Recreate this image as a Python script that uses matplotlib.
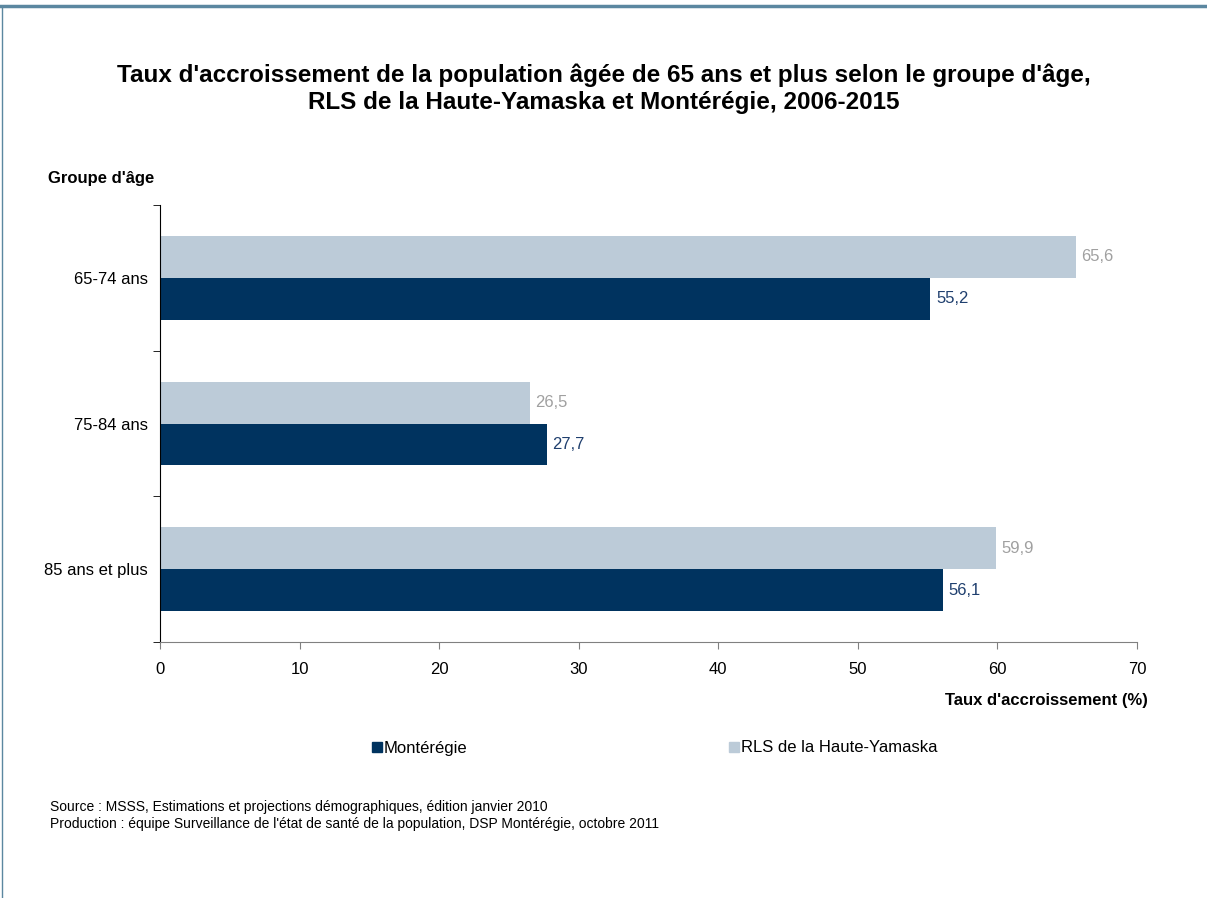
import matplotlib
matplotlib.use("Agg")
import matplotlib.pyplot as plt
from matplotlib.patches import Patch
from matplotlib.lines import Line2D
import numpy as np

plt.rcParams["font.family"] = ["Liberation Sans", "DejaVu Sans"]

groups = ["65-74 ans", "75-84 ans", "85 ans et plus"]
monteregie = [55.2, 27.7, 56.1]
haute_yamaska = [65.6, 26.5, 59.9]
xticks = [0, 10, 20, 30, 40, 50, 60, 70]

dark = "#00335f"
light = "#bccbd8"

fig = plt.figure(figsize=(12.07, 8.98), dpi=100)
ax = fig.add_axes([0.1326, 0.285, 0.942 - 0.1326, 0.7717 - 0.285])

y = np.arange(len(groups))
h = 0.288
ax.barh(y - h / 2, haute_yamaska, height=h, color=light)
ax.barh(y + h / 2, monteregie, height=h, color=dark)

for i in range(len(groups)):
    ax.text(haute_yamaska[i] + 0.4, y[i] - h / 2, f"{haute_yamaska[i]:.1f}".replace(".", ","),
            va="center", ha="left", fontsize=12, color="#a0a0a0")
    ax.text(monteregie[i] + 0.4, y[i] + h / 2, f"{monteregie[i]:.1f}".replace(".", ","),
            va="center", ha="left", fontsize=12, color="#1f3f6e")

ax.set_xlim(0, 70)
ax.set_ylim(2.5, -0.5)
ax.set_xticks(xticks)
ax.set_xticklabels([str(v) for v in xticks], fontsize=12)
ax.set_yticks(y)
ax.set_yticklabels(groups, fontsize=12)
ax.set_yticks([-0.5, 0.5, 1.5, 2.5], minor=True)
ax.tick_params(axis="y", which="major", length=0, pad=8.5)
ax.tick_params(axis="y", which="minor", length=5, color="black")
ax.tick_params(axis="x", length=5, color="#808080", pad=9)

ax.spines["top"].set_visible(False)
ax.spines["right"].set_visible(False)
ax.spines["left"].set_color("black")
ax.spines["bottom"].set_color("#808080")

fig.text(0.5, 1 - 89 / 898, "Taux d'accroissement de la population âgée de 65 ans et plus selon le groupe d'âge,\n"
         "RLS de la Haute-Yamaska et Montérégie, 2006-2015",
         ha="center", va="center", fontsize=17.5, fontweight="bold", linespacing=1.2)
fig.text(48 / 1207, 1 - 178 / 898, "Groupe d'âge", ha="left", va="center", fontsize=12, fontweight="bold")
fig.text(1148 / 1207, 1 - 700 / 898, "Taux d'accroissement (%)", ha="right", va="center",
         fontsize=12, fontweight="bold")

handles = [Patch(color=dark), Patch(color=light)]
fig.legend(handles, ["Montérégie", "RLS de la Haute-Yamaska"], loc="center",
           bbox_to_anchor=(655 / 1207, 1 - 748 / 898), ncol=2, frameon=False,
           fontsize=12, handlelength=0.55, handleheight=0.55, handletextpad=0.15,
           columnspacing=15.7)

fig.text(50 / 1207, 1 - 807 / 898, "Source : MSSS, Estimations et projections démographiques, édition janvier 2010",
         ha="left", va="center", fontsize=10)
fig.text(50 / 1207, 1 - 824 / 898,
         "Production : équipe Surveillance de l'état de santé de la population, DSP Montérégie, octobre 2011",
         ha="left", va="center", fontsize=10)

# cadre
fig.add_artist(Line2D([0, 1], [1 - 6 / 898, 1 - 6 / 898], transform=fig.transFigure, color="#5b87a0", lw=2.5))
fig.add_artist(Line2D([2 / 1207, 2 / 1207], [0, 1 - 6 / 898], transform=fig.transFigure, color="#5b87a0", lw=1))

plt.savefig("out.png", dpi=100)
